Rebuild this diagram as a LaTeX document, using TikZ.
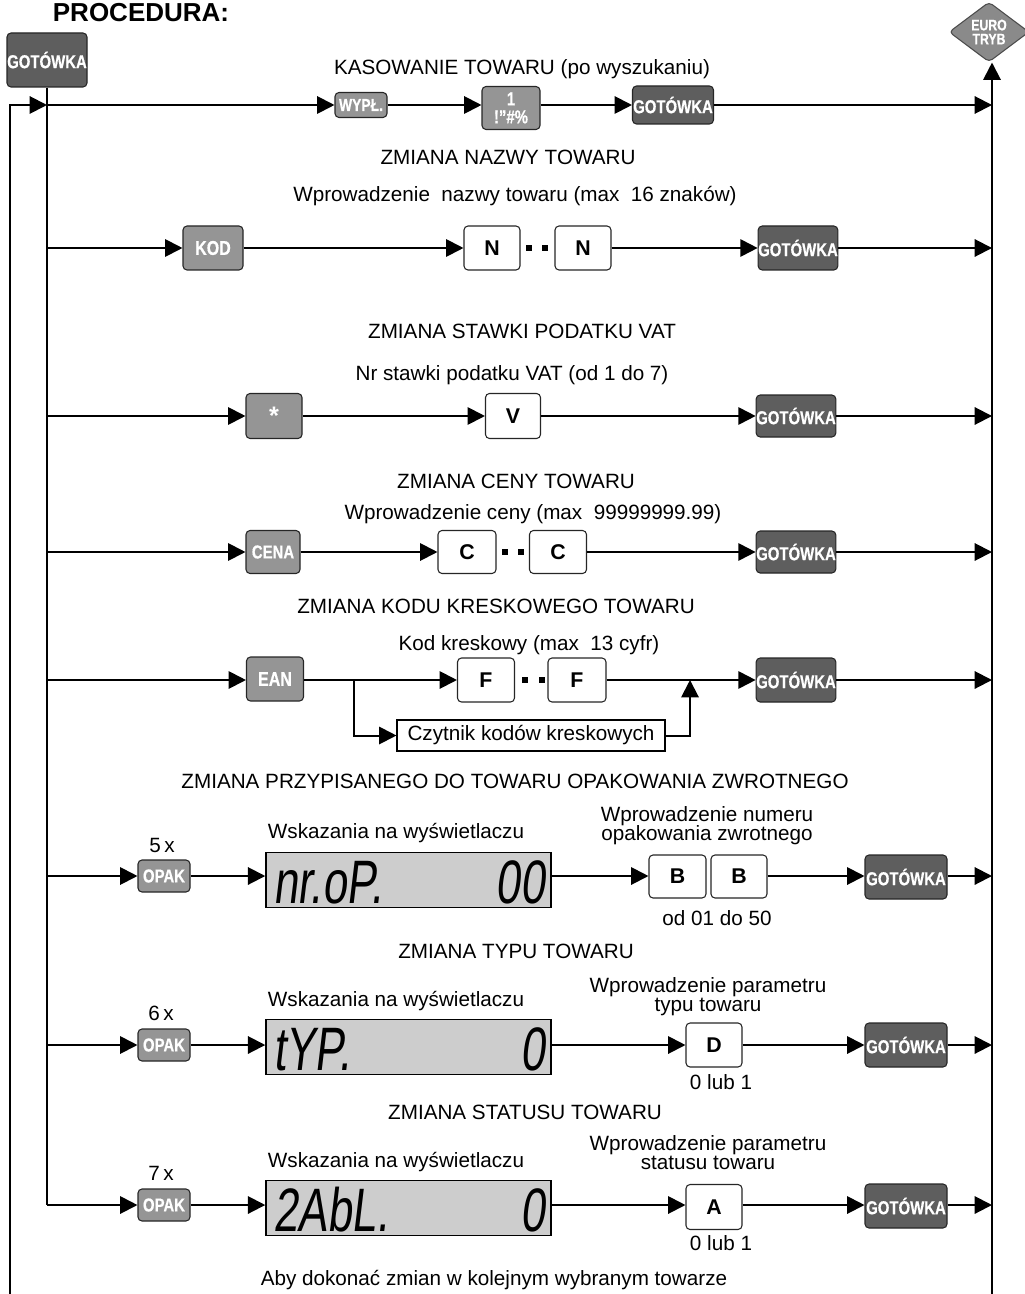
\documentclass[tikz,border=0pt]{standalone}
\usepackage{fontspec}
\setmainfont{Liberation Sans}
\newfontfamily\keyfont[FakeStretch=0.8,FakeBold=0.6]{Liberation Sans}
\newfontfamily\lcdfont[FakeStretch=0.72,FakeSlant=0.12]{Liberation Sans}
\usetikzlibrary{arrows.meta,shapes.geometric}
\definecolor{darkkey}{HTML}{5E5E5E}
\definecolor{lightkey}{HTML}{959595}
\definecolor{eurogray}{HTML}{8A8A8A}
\definecolor{lcdgray}{HTML}{CDCDCD}
\begin{document}
\begin{tikzpicture}[x=0.75pt,y=-0.75pt,
 line width=1.5pt,
 arr/.style={-{Triangle[length=13pt,width=13pt]}},
 keybase/.style={draw=black!85,line width=0.8pt,rounded corners=3pt,inner sep=0pt,text=white,font=\keyfont\fontsize{14}{14}\selectfont\bfseries},
 darkbox/.style={keybase,fill=darkkey},
 lightbox/.style={keybase,fill=lightkey},
 letterbox/.style={draw=black!85,line width=0.8pt,rounded corners=3pt,fill=white,inner sep=0pt,font=\fontsize{16}{16}\selectfont\bfseries,minimum width=56*0.75pt,minimum height=44*0.75pt},
 lbl/.style={inner sep=0pt,font=\fontsize{15.5}{15}\selectfont},
 lcd/.style={draw=black,line width=1.1pt,fill=lcdgray,minimum width=285*0.75pt,minimum height=55*0.75pt,inner sep=0pt},
 lcdtext/.style={inner sep=0pt,font=\lcdfont\fontsize{46}{46}\selectfont},
 sq/.style={fill=black,inner sep=0pt,minimum size=6*0.75pt},
]
\useasboundingbox (0,0) rectangle (1024,1294);

% title and side elements
\node[inner sep=0pt,anchor=base,font=\fontsize{19.5}{20}\selectfont\bfseries] (title) at (141,22) {PROCEDURA:};
\node[darkbox,minimum width=80*0.75pt,minimum height=54*0.75pt] (gotTop) at (47,60) {GOTÓWKA};
\node[diamond,aspect=1.33,draw=black!70,line width=0.8pt,fill=eurogray,rounded corners=3pt,inner sep=0pt,
      minimum width=80*0.75pt,minimum height=60*0.75pt,text=white,align=center,
      font=\keyfont\fontsize{11.5}{10.5}\selectfont\bfseries] (euro) at (989,32) {EURO\\TRYB};

% row coordinates
\coordinate (L1) at (47,105);  \coordinate (R1) at (992,105);
\coordinate (L2) at (47,248);  \coordinate (R2) at (992,248);
\coordinate (L3) at (47,416);  \coordinate (R3) at (992,416);
\coordinate (L4) at (47,552);  \coordinate (R4) at (992,552);
\coordinate (L5) at (47,680);  \coordinate (R5) at (992,680);
\coordinate (L6) at (47,876);  \coordinate (R6) at (992,876);
\coordinate (L7) at (47,1045); \coordinate (R7) at (992,1045);
\coordinate (L8) at (47,1205); \coordinate (R8) at (992,1205);
\coordinate (loopB) at (10,1294);
\coordinate (rightB) at (992,1294);

% main verticals
\draw (gotTop.south) -- (L8);
\draw[arr] (loopB) |- (L1);
\draw[arr] (rightB) -- (rightB |- euro.south);

% ---------- Row 1
\node[lbl,anchor=base] (t1) at (522,75) {KASOWANIE TOWARU (po wyszukaniu)};
\node[lightbox,minimum width=52*0.75pt,minimum height=25*0.75pt,font=\keyfont\fontsize{13}{13}\selectfont\bfseries] (wyp) at (361,105) {WYPŁ.};
\node[lightbox,minimum width=58*0.75pt,minimum height=43*0.75pt,align=center,font=\keyfont\fontsize{14}{13.5}\selectfont\bfseries] (k1) at (511,108) {1\\!”\#\%};
\node[darkbox,minimum width=81*0.75pt,minimum height=38*0.75pt] (got1) at (673,105) {GOTÓWKA};
\draw[arr] (L1) -- (wyp.west |- L1);
\draw[arr] (wyp.east |- L1) -- (k1.west |- L1);
\draw[arr] (k1.east |- L1) -- (got1.west |- L1);
\draw[arr] (got1.east |- L1) -- (R1);

% ---------- Row 2
\node[lbl,anchor=base] (t2a) at (508,165) {ZMIANA NAZWY TOWARU};
\node[lbl,anchor=base] (t2b) at (515,202) {Wprowadzenie~ nazwy towaru (max~ 16 znaków)};
\node[lightbox,minimum width=60*0.75pt,minimum height=44*0.75pt,font=\keyfont\fontsize{15}{15}\selectfont\bfseries] (kod) at (213,248) {KOD};
\node[letterbox] (n1) at (492,248) {N};
\node[sq] (d2a) at (529,248) {};
\node[sq] (d2b) at (545,248) {};
\node[letterbox] (n2) at (583,248) {N};
\node[darkbox,minimum width=79*0.75pt,minimum height=44*0.75pt] (got2) at (798,248) {GOTÓWKA};
\draw[arr] (L2) -- (kod.west |- L2);
\draw[arr] (kod.east |- L2) -- (n1.west |- L2);
\draw[arr] (n2.east |- L2) -- (got2.west |- L2);
\draw[arr] (got2.east |- L2) -- (R2);

% ---------- Row 3
\node[lbl,anchor=base] (t3a) at (522,338) {ZMIANA STAWKI PODATKU VAT};
\node[lbl,anchor=base] (t3b) at (512,380) {Nr stawki podatku VAT (od 1 do 7)};
\node[lightbox,minimum width=56*0.75pt,minimum height=45*0.75pt,font=\fontsize{19}{19}\selectfont\bfseries] (star) at (274,416) {*};
\node[letterbox,minimum width=55*0.75pt,minimum height=45*0.75pt] (v) at (513,416) {V};
\node[darkbox,minimum width=79*0.75pt,minimum height=42*0.75pt] (got3) at (796,416) {GOTÓWKA};
\draw[arr] (L3) -- (star.west |- L3);
\draw[arr] (star.east |- L3) -- (v.west |- L3);
\draw[arr] (v.east |- L3) -- (got3.west |- L3);
\draw[arr] (got3.east |- L3) -- (R3);

% ---------- Row 4
\node[lbl,anchor=base] (t4a) at (516,488) {ZMIANA CENY TOWARU};
\node[lbl,anchor=base] (t4b) at (533,519) {Wprowadzenie ceny (max~ 99999999.99)};
\node[lightbox,minimum width=54*0.75pt,minimum height=43*0.75pt] (cena) at (273,552) {CENA};
\node[letterbox,minimum width=58*0.75pt,minimum height=43*0.75pt] (c1) at (467,552) {C};
\node[sq] (d4a) at (505,552) {};
\node[sq] (d4b) at (521,552) {};
\node[letterbox,minimum width=57*0.75pt,minimum height=43*0.75pt] (c2) at (558,552) {C};
\node[darkbox,minimum width=79*0.75pt,minimum height=42*0.75pt] (got4) at (796,552) {GOTÓWKA};
\draw[arr] (L4) -- (cena.west |- L4);
\draw[arr] (cena.east |- L4) -- (c1.west |- L4);
\draw[arr] (c2.east |- L4) -- (got4.west |- L4);
\draw[arr] (got4.east |- L4) -- (R4);

% ---------- Row 5
\node[lbl,anchor=base] (t5a) at (496,613) {ZMIANA KODU KRESKOWEGO TOWARU};
\node[lbl,anchor=base] (t5b) at (529,650) {Kod kreskowy (max~ 13 cyfr)};
\node[lightbox,minimum width=57*0.75pt,minimum height=44*0.75pt,font=\keyfont\fontsize{15}{15}\selectfont\bfseries] (ean) at (275,679) {EAN};
\node[letterbox,minimum width=57*0.75pt] (f1) at (486,680) {F};
\node[sq] (d5a) at (525,680) {};
\node[sq] (d5b) at (542,680) {};
\node[letterbox,minimum width=58*0.75pt] (f2) at (577,680) {F};
\node[darkbox,minimum width=79*0.75pt,minimum height=44*0.75pt] (got5) at (796,680) {GOTÓWKA};
\node[draw=black,line width=0.8pt,fill=white,inner sep=0pt,minimum width=268*0.75pt,minimum height=31*0.75pt,font=\fontsize{15.5}{15.5}\selectfont] (czyt) at (531,735.5) {Czytnik kodów kreskowych};
\coordinate (br5) at (354,680);
\coordinate (jn5) at (690,680);
\draw[arr] (L5) -- (ean.west |- L5);
\draw[arr] (ean.east |- L5) -- (f1.west |- L5);
\draw[arr] (br5) |- (czyt.west);
\draw[arr] (czyt.east) -| (jn5);
\draw[arr] (f2.east |- L5) -- (got5.west |- L5);
\draw[arr] (got5.east |- L5) -- (R5);

% ---------- Row 6
\node[lbl,anchor=base] (t6a) at (515,788) {ZMIANA PRZYPISANEGO DO TOWARU OPAKOWANIA ZWROTNEGO};
\node[lbl,anchor=base] (t6x) at (162,852) {5\,x};
\node[lbl,anchor=base] (t6w) at (396,838) {Wskazania na wyświetlaczu};
\node[lbl,anchor=base] (t6p1) at (707,821) {Wprowadzenie numeru};
\node[lbl,anchor=base] (t6p2) at (707,840) {opakowania zwrotnego};
\node[lbl,anchor=base] (t6r) at (717,925) {od 01 do 50};
\node[lightbox,minimum width=52*0.75pt,minimum height=32*0.75pt] (opak6) at (164,876) {OPAK};
\node[lcd] (lcd6) at (408.5,880) {};
\node[lcdtext,anchor=base west] (lcd6a) at (272,903) {nr.oP.};
\node[lcdtext,anchor=base east] (lcd6b) at (546,903) {00};
\node[letterbox,minimum width=57*0.75pt,minimum height=43*0.75pt] (b1) at (677.5,876.5) {B};
\node[letterbox,minimum width=56*0.75pt,minimum height=43*0.75pt] (b2) at (739,876.5) {B};
\node[darkbox,minimum width=82*0.75pt,minimum height=44*0.75pt] (got6) at (906,877) {GOTÓWKA};
\draw[arr] (L6) -- (opak6.west |- L6);
\draw[arr] (opak6.east |- L6) -- (lcd6.west |- L6);
\draw[arr] (lcd6.east |- L6) -- (b1.west |- L6);
\draw[arr] (b2.east |- L6) -- (got6.west |- L6);
\draw[arr] (got6.east |- L6) -- (R6);

% ---------- Row 7
\node[lbl,anchor=base] (t7a) at (516,958) {ZMIANA TYPU TOWARU};
\node[lbl,anchor=base] (t7x) at (161,1020) {6\,x};
\node[lbl,anchor=base] (t7w) at (396,1006) {Wskazania na wyświetlaczu};
\node[lbl,anchor=base] (t7p1) at (708,992) {Wprowadzenie parametru};
\node[lbl,anchor=base] (t7p2) at (708,1011) {typu towaru};
\node[lbl,anchor=base] (t7r) at (721,1089) {0 lub 1};
\node[lightbox,minimum width=52*0.75pt,minimum height=32*0.75pt] (opak7) at (164,1045) {OPAK};
\node[lcd] (lcd7) at (408.5,1047) {};
\node[lcdtext,anchor=base west] (lcd7a) at (272,1070) {tYP.};
\node[lcdtext,anchor=base east] (lcd7b) at (546,1070) {0};
\node[letterbox] (dd) at (714,1045) {D};
\node[darkbox,minimum width=82*0.75pt,minimum height=44*0.75pt] (got7) at (906,1045) {GOTÓWKA};
\draw[arr] (L7) -- (opak7.west |- L7);
\draw[arr] (opak7.east |- L7) -- (lcd7.west |- L7);
\draw[arr] (lcd7.east |- L7) -- (dd.west |- L7);
\draw[arr] (dd.east |- L7) -- (got7.west |- L7);
\draw[arr] (got7.east |- L7) -- (R7);

% ---------- Row 8
\node[lbl,anchor=base] (t8a) at (525,1119) {ZMIANA STATUSU TOWARU};
\node[lbl,anchor=base] (t8x) at (161,1180) {7\,x};
\node[lbl,anchor=base] (t8w) at (396,1167) {Wskazania na wyświetlaczu};
\node[lbl,anchor=base] (t8p1) at (708,1150) {Wprowadzenie parametru};
\node[lbl,anchor=base] (t8p2) at (708,1169) {statusu towaru};
\node[lbl,anchor=base] (t8r) at (721,1250) {0 lub 1};
\node[lightbox,minimum width=52*0.75pt,minimum height=32*0.75pt] (opak8) at (164,1205) {OPAK};
\node[lcd] (lcd8) at (408.5,1208) {};
\node[lcdtext,anchor=base west] (lcd8a) at (272,1231) {2AbL.};
\node[lcdtext,anchor=base east] (lcd8b) at (546,1231) {0};
\node[letterbox,minimum height=45*0.75pt] (aa) at (714,1207) {A};
\node[darkbox,minimum width=82*0.75pt,minimum height=44*0.75pt] (got8) at (906,1206) {GOTÓWKA};
\draw[arr] (L8) -- (opak8.west |- L8);
\draw[arr] (opak8.east |- L8) -- (lcd8.west |- L8);
\draw[arr] (lcd8.east |- L8) -- (aa.west |- L8);
\draw[arr] (aa.east |- L8) -- (got8.west |- L8);
\draw[arr] (got8.east |- L8) -- (R8);

% bottom
\node[lbl,anchor=base] (tb) at (494,1285) {Aby dokonać zmian w kolejnym wybranym towarze};
\end{tikzpicture}
\end{document}
